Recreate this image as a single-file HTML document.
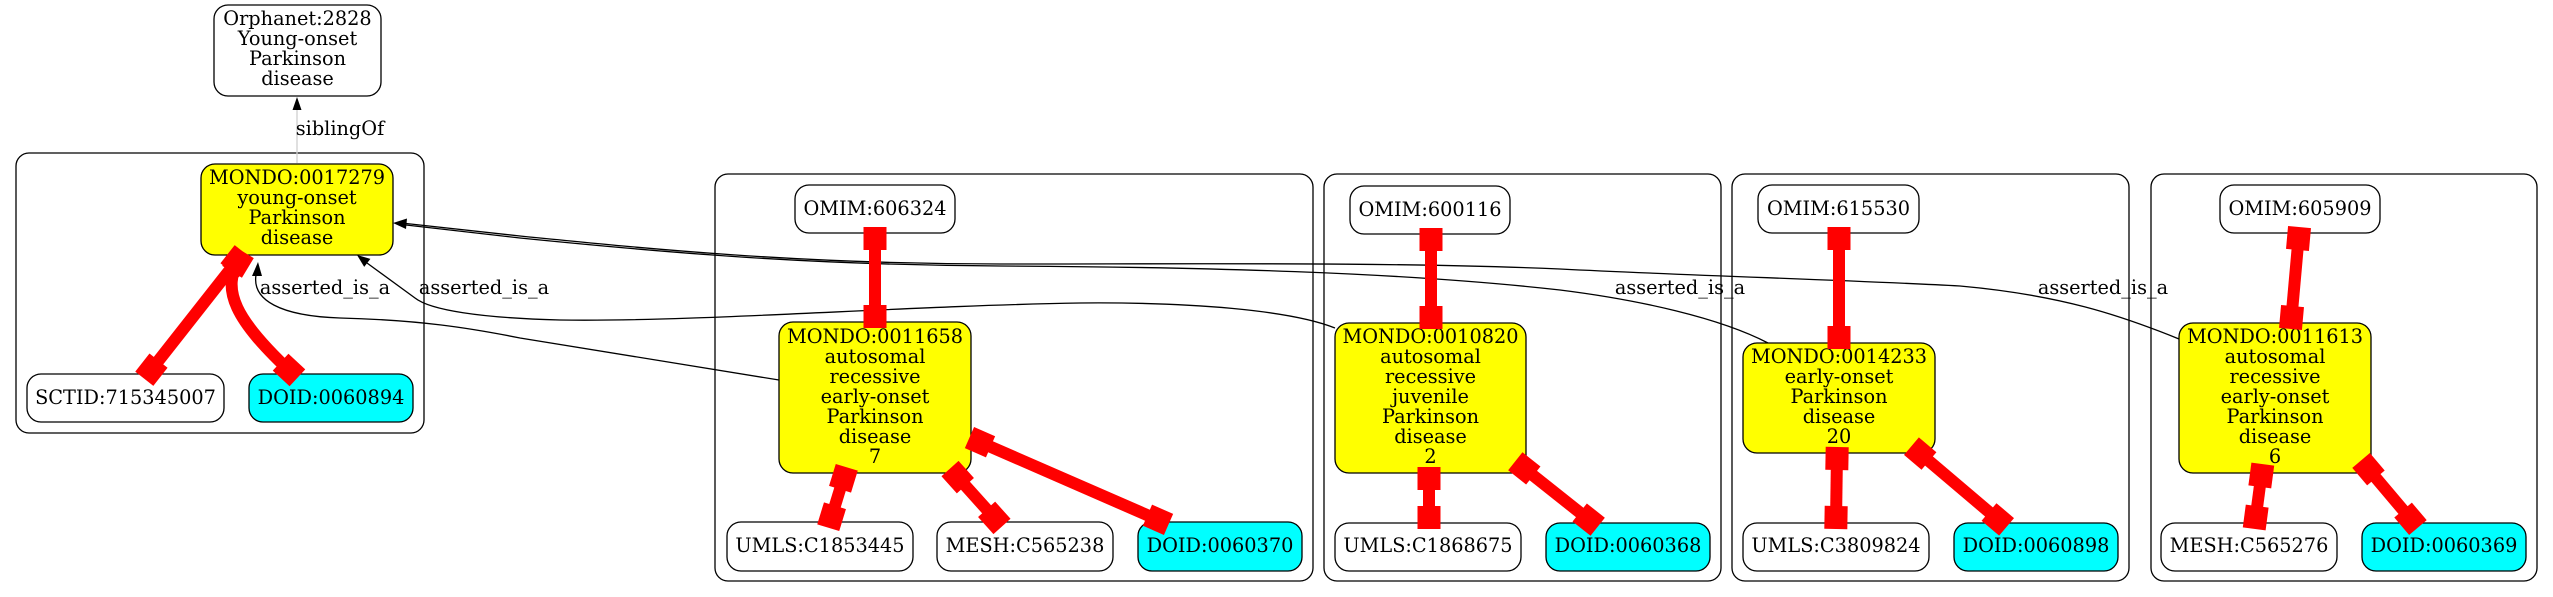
<!DOCTYPE html>
<html><head><meta charset="utf-8"><style>
html,body{margin:0;padding:0;background:#fff;}
svg{display:block;}
text{font-family:"DejaVu Serif","Liberation Serif",serif;font-size:19.3px;fill:#000;text-anchor:middle;}
.cl{fill:none;stroke:#000;stroke-width:1.3;}
.n{stroke:#000;stroke-width:1.3;}
.r{stroke:#f00;stroke-width:12;fill:none;}
.b{fill:#f00;}
.e{stroke:#000;stroke-width:1.3;fill:none;}
</style></head><body>
<svg width="2553" height="597" viewBox="0 0 2553 597" xmlns="http://www.w3.org/2000/svg">
<rect width="2553" height="597" fill="#fff"/>
<!-- clusters -->
<rect class="cl" x="16" y="153" width="408" height="280" rx="13"/>
<rect class="cl" x="715" y="174" width="598" height="407" rx="13"/>
<rect class="cl" x="1324" y="174" width="397" height="407" rx="13"/>
<rect class="cl" x="1732" y="174" width="397" height="407" rx="13"/>
<rect class="cl" x="2151" y="174" width="386" height="407" rx="13"/>

<!-- black edges -->
<line x1="297" y1="163" x2="297" y2="109" stroke="#d0d0d0" stroke-width="1.3"/>
<polygon points="297,97 292.5,110 301.5,110" fill="#000"/>
<text x="340" y="135">siblingOf</text>

<path class="e" d="M779,380 L520,338 C470,328 420,320 340,318 C280,316 252,300 256,275"/>
<polygon points="258,262 252,276 262,276" fill="#000"/>
<path class="e" d="M1335,328 C1290,310 1190,302 1080,303 C900,306 700,322 560,320 C480,318 430,310 415,298 L367,263"/>
<polygon points="357,255 370.4,258.9 364.2,266.9" fill="#000"/>
<path class="e" d="M1768,343 C1720,318 1640,300 1560,290 C1400,272 1200,267 1000,266 C800,265 650,251 520,238 L406,225"/>
<path class="e" d="M2179,339 C2120,315 2060,295 1960,286 C1850,280 1700,276 1560,269 C1400,262 1200,264 1000,264 C800,264 650,249 520,236 L406,223.5"/>
<polygon points="393,223 407,218.5 406,229" fill="#000"/>
<text x="325" y="294">asserted_is_a</text>
<text x="484" y="294">asserted_is_a</text>
<text x="1680" y="294">asserted_is_a</text>
<text x="2103" y="294">asserted_is_a</text>

<!-- nodes -->
<rect class="n" x="214" y="5" width="167" height="91" rx="14" fill="#fff"/>
<text x="297.5"><tspan x="297.5" y="25">Orphanet:2828</tspan><tspan x="297.5" y="45">Young-onset</tspan><tspan x="297.5" y="65">Parkinson</tspan><tspan x="297.5" y="85">disease</tspan></text>

<rect class="n" x="201" y="164" width="192" height="91" rx="14" fill="#ff0"/>
<text><tspan x="297" y="184">MONDO:0017279</tspan><tspan x="297" y="204">young-onset</tspan><tspan x="297" y="224">Parkinson</tspan><tspan x="297" y="244">disease</tspan></text>

<rect class="n" x="27" y="374" width="197" height="48" rx="14" fill="#fff"/>
<text x="125.5" y="404">SCTID:715345007</text>
<rect class="n" x="249" y="374" width="164" height="48" rx="14" fill="#0ff"/>
<text x="331" y="404">DOID:0060894</text>

<rect class="n" x="795" y="185" width="160" height="48" rx="14" fill="#fff"/>
<text x="875" y="215">OMIM:606324</text>
<rect class="n" x="779" y="322" width="192" height="151" rx="14" fill="#ff0"/>
<text><tspan x="875" y="343">MONDO:0011658</tspan><tspan x="875" y="363">autosomal</tspan><tspan x="875" y="383">recessive</tspan><tspan x="875" y="403">early-onset</tspan><tspan x="875" y="423">Parkinson</tspan><tspan x="875" y="443">disease</tspan><tspan x="875" y="463">7</tspan></text>
<rect class="n" x="727" y="522" width="186" height="49" rx="14" fill="#fff"/>
<text x="820" y="552">UMLS:C1853445</text>
<rect class="n" x="937" y="522" width="176" height="49" rx="14" fill="#fff"/>
<text x="1025" y="552">MESH:C565238</text>
<rect class="n" x="1138" y="522" width="164" height="49" rx="14" fill="#0ff"/>
<text x="1220" y="552">DOID:0060370</text>

<rect class="n" x="1350" y="186" width="160" height="48" rx="14" fill="#fff"/>
<text x="1430" y="216">OMIM:600116</text>
<rect class="n" x="1335" y="323" width="191" height="150" rx="14" fill="#ff0"/>
<text><tspan x="1430.5" y="343">MONDO:0010820</tspan><tspan x="1430.5" y="363">autosomal</tspan><tspan x="1430.5" y="383">recessive</tspan><tspan x="1430.5" y="403">juvenile</tspan><tspan x="1430.5" y="423">Parkinson</tspan><tspan x="1430.5" y="443">disease</tspan><tspan x="1430.5" y="463">2</tspan></text>
<rect class="n" x="1335" y="523" width="186" height="48" rx="14" fill="#fff"/>
<text x="1428" y="552">UMLS:C1868675</text>
<rect class="n" x="1546" y="523" width="164" height="48" rx="14" fill="#0ff"/>
<text x="1628" y="552">DOID:0060368</text>

<rect class="n" x="1758" y="185" width="161" height="48" rx="14" fill="#fff"/>
<text x="1838.5" y="215">OMIM:615530</text>
<rect class="n" x="1743" y="343" width="192" height="110" rx="14" fill="#ff0"/>
<text><tspan x="1839" y="363">MONDO:0014233</tspan><tspan x="1839" y="383">early-onset</tspan><tspan x="1839" y="403">Parkinson</tspan><tspan x="1839" y="423">disease</tspan><tspan x="1839" y="443">20</tspan></text>
<rect class="n" x="1743" y="523" width="186" height="48" rx="14" fill="#fff"/>
<text x="1836" y="552">UMLS:C3809824</text>
<rect class="n" x="1954" y="523" width="164" height="48" rx="14" fill="#0ff"/>
<text x="2036" y="552">DOID:0060898</text>

<rect class="n" x="2220" y="185" width="160" height="48" rx="14" fill="#fff"/>
<text x="2300" y="215">OMIM:605909</text>
<rect class="n" x="2179" y="323" width="192" height="150" rx="14" fill="#ff0"/>
<text><tspan x="2275" y="343">MONDO:0011613</tspan><tspan x="2275" y="363">autosomal</tspan><tspan x="2275" y="383">recessive</tspan><tspan x="2275" y="403">early-onset</tspan><tspan x="2275" y="423">Parkinson</tspan><tspan x="2275" y="443">disease</tspan><tspan x="2275" y="463">6</tspan></text>
<rect class="n" x="2161" y="523" width="176" height="48" rx="14" fill="#fff"/>
<text x="2249" y="552">MESH:C565276</text>
<rect class="n" x="2362" y="523" width="164" height="48" rx="14" fill="#0ff"/>
<text x="2444" y="552">DOID:0060369</text>

<!-- red edges -->
<line class="r" x1="240" y1="257" x2="148" y2="374"/>
<path class="r" d="M240,257 C220,290 235,320 293,374"/>
<line class="r" x1="875" y1="233" x2="875" y2="322"/>
<line class="r" x1="845" y1="473" x2="830" y2="522"/>
<line class="r" x1="954" y1="473" x2="998" y2="522"/>
<line class="r" x1="975" y1="440" x2="1163" y2="522"/>
<line class="r" x1="1431" y1="234" x2="1431" y2="323"/>
<line class="r" x1="1429" y1="473" x2="1429" y2="523"/>
<line class="r" x1="1520" y1="465" x2="1593" y2="523"/>
<line class="r" x1="1839" y1="233" x2="1839" y2="343"/>
<line class="r" x1="1837" y1="453" x2="1836" y2="523"/>
<line class="r" x1="1916" y1="450" x2="2002" y2="523"/>
<line class="r" x1="2299" y1="233" x2="2291" y2="323"/>
<line class="r" x1="2262" y1="470" x2="2255" y2="523"/>
<line class="r" x1="2365" y1="465" x2="2414" y2="523"/>

<g class="b">
<rect x="-11.5" y="-11.5" width="23" height="23" transform="translate(236.6,261.3) rotate(128.2)"/>
<rect x="-11.5" y="-11.5" width="23" height="23" transform="translate(151.4,369.7) rotate(128.2)"/>
<rect x="-11.5" y="-11.5" width="23" height="23" transform="translate(238,262) rotate(121)"/>
<rect x="-11.5" y="-11.5" width="23" height="23" transform="translate(289,370) rotate(43)"/>
<rect x="-11.5" y="-11.5" width="23" height="23" transform="translate(875,238.5)"/>
<rect x="-11.5" y="-11.5" width="23" height="23" transform="translate(875,316.5)"/>
<rect x="-11.5" y="-11.5" width="23" height="23" transform="translate(843.4,478.3) rotate(107)"/>
<rect x="-11.5" y="-11.5" width="23" height="23" transform="translate(831.6,516.7) rotate(107)"/>
<rect x="-11.5" y="-11.5" width="23" height="23" transform="translate(957.7,477.1) rotate(48)"/>
<rect x="-11.5" y="-11.5" width="23" height="23" transform="translate(994.3,517.9) rotate(48)"/>
<rect x="-11.5" y="-11.5" width="23" height="23" transform="translate(980,442.2) rotate(23.6)"/>
<rect x="-11.5" y="-11.5" width="23" height="23" transform="translate(1158,519.8) rotate(23.6)"/>
<rect x="-11.5" y="-11.5" width="23" height="23" transform="translate(1431,239.5)"/>
<rect x="-11.5" y="-11.5" width="23" height="23" transform="translate(1431,317.5)"/>
<rect x="-11.5" y="-11.5" width="23" height="23" transform="translate(1429,478.5)"/>
<rect x="-11.5" y="-11.5" width="23" height="23" transform="translate(1429,517.5)"/>
<rect x="-11.5" y="-11.5" width="23" height="23" transform="translate(1524.3,468.4) rotate(38.5)"/>
<rect x="-11.5" y="-11.5" width="23" height="23" transform="translate(1588.7,519.6) rotate(38.5)"/>
<rect x="-11.5" y="-11.5" width="23" height="23" transform="translate(1839,238.5)"/>
<rect x="-11.5" y="-11.5" width="23" height="23" transform="translate(1839,337.5)"/>
<rect x="-11.5" y="-11.5" width="23" height="23" transform="translate(1837,458.5) rotate(91)"/>
<rect x="-11.5" y="-11.5" width="23" height="23" transform="translate(1836,517.5) rotate(91)"/>
<rect x="-11.5" y="-11.5" width="23" height="23" transform="translate(1920.2,453.6) rotate(40.3)"/>
<rect x="-11.5" y="-11.5" width="23" height="23" transform="translate(1997.8,519.4) rotate(40.3)"/>
<rect x="-11.5" y="-11.5" width="23" height="23" transform="translate(2298.5,238.5) rotate(95.1)"/>
<rect x="-11.5" y="-11.5" width="23" height="23" transform="translate(2291.5,317.5) rotate(95.1)"/>
<rect x="-11.5" y="-11.5" width="23" height="23" transform="translate(2261.3,475.5) rotate(97.5)"/>
<rect x="-11.5" y="-11.5" width="23" height="23" transform="translate(2255.7,517.5) rotate(97.5)"/>
<rect x="-11.5" y="-11.5" width="23" height="23" transform="translate(2368.5,469.2) rotate(49.8)"/>
<rect x="-11.5" y="-11.5" width="23" height="23" transform="translate(2410.5,518.8) rotate(49.8)"/>
</g>
</svg>
</body></html>
